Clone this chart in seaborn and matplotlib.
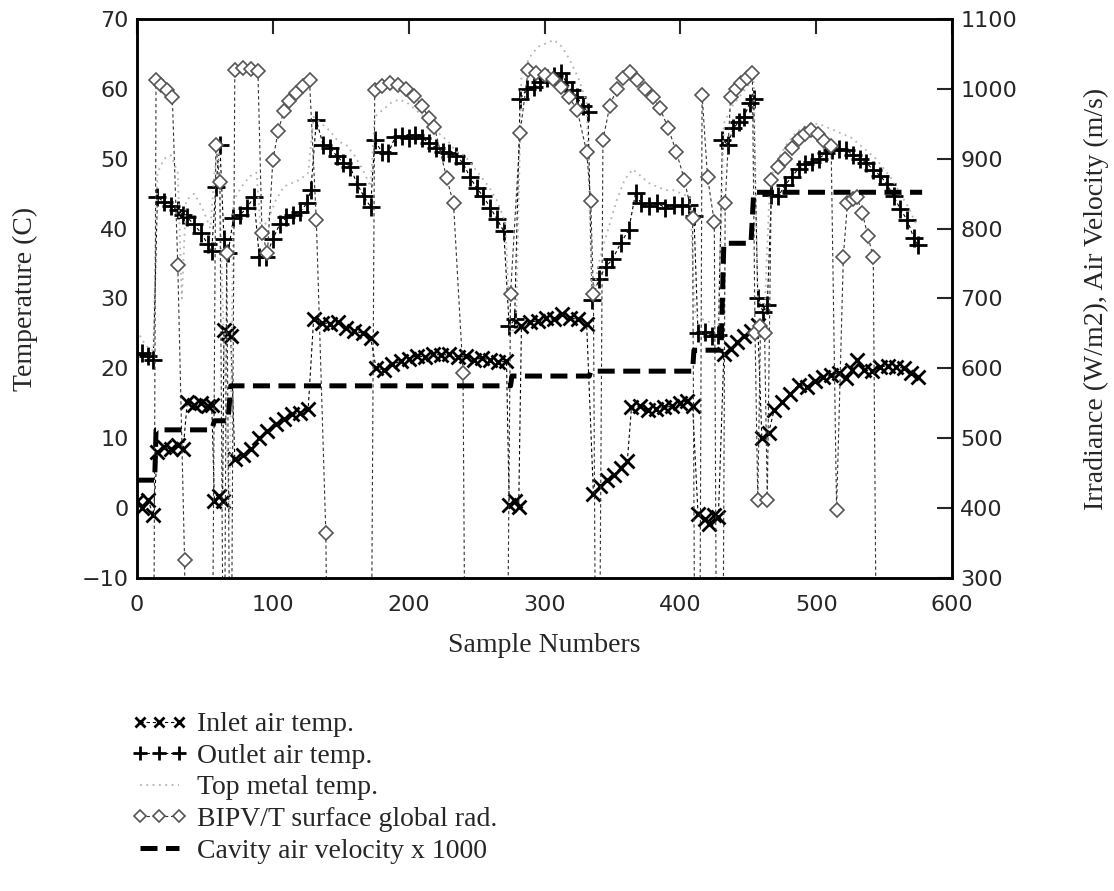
import matplotlib
matplotlib.use("Agg")
import matplotlib.pyplot as plt
import seaborn as sns

# sample numbers / values, block by block
inlet_x = [0, 4, 8, 12,
           15, 20, 25, 30, 34,
           37, 42, 47, 52, 55,
           57, 60, 63, 64, 67, 69,
           72, 78, 84, 90, 96, 102, 108, 114, 120, 126,
           130, 136, 142, 148, 154, 160, 166, 172,
           176, 182, 188, 194, 200, 206, 212, 218, 224, 230, 236, 242, 248, 254, 260, 266, 272,
           274, 278, 281,
           283, 289, 295, 301, 307, 313, 319, 325, 331,
           336, 341, 346, 351, 356, 361,
           364, 370, 376, 382, 388, 394, 400, 405, 409,
           413, 418, 421, 425, 428,
           432, 437, 442, 447, 452, 457,
           460, 465,
           469, 475, 481, 487, 493, 499, 505, 511, 517, 522, 526, 530, 535, 541, 547, 553, 559, 565, 570, 575]
inlet_t = [1.0, 0.0, 1.2, -1.0,
           8.0, 8.8, 8.4, 9.0, 8.5,
           15.2, 14.8, 15.0, 14.6, 14.8,
           1.0, 1.8, 1.0, 25.5, 25.0, 24.6,
           7.0, 7.6, 8.4, 10.0, 11.0, 12.0, 12.8, 13.4, 13.6, 14.2,
           27.0, 26.5, 26.4, 26.6, 25.8, 25.4, 25.0, 24.4,
           20.0, 19.8, 20.6, 21.0, 21.4, 21.8, 21.6, 22.0, 21.9, 22.0, 21.6, 21.8, 21.2, 21.5, 21.2, 20.9, 21.0,
           0.5, 1.0, 0.2,
           26.0, 26.6, 26.8, 27.2, 27.0, 27.8, 27.2, 27.0, 26.4,
           2.0, 3.2, 4.0, 4.8, 5.8, 6.8,
           14.4, 14.6, 14.0, 14.2, 14.4, 14.6, 15.0, 15.4, 14.6,
           -0.8, -1.6, -2.3, -1.0, -1.2,
           22.0, 22.8, 23.8, 24.6, 25.4, 26.2,
           10.0, 10.8,
           14.0, 15.2, 16.4, 17.6, 17.4, 18.2, 18.8, 19.0, 19.4, 18.6, 19.8, 21.2, 19.8, 19.6, 20.2, 20.4, 20.2, 20.0, 19.4, 18.8]

outlet_x = [0, 4, 8, 12,
            15, 20, 25, 30, 34,
            37, 42, 47, 52, 55,
            58, 61, 64, 67,
            71, 76, 81, 86, 90, 95, 100, 105, 110, 115, 120, 125, 128,
            132, 137, 142, 147, 152, 157, 162, 167, 172,
            175, 180, 185, 190, 195, 200, 205, 210, 215, 220, 225, 230, 235, 240, 245, 250, 255, 260, 265, 270,
            274, 278,
            282, 287, 292, 297, 302, 307, 312, 316, 320, 324, 328, 332,
            335, 340, 345, 350, 356, 362, 367,
            371, 377, 383, 389, 395, 401, 406, 410,
            413, 418, 423, 428,
            431, 435, 439, 443, 447, 451, 454,
            457, 461, 464,
            467, 472, 477, 482, 487, 492, 497, 502, 507, 512, 517, 522, 527, 532, 537, 542, 547, 552, 557, 562, 567, 572, 575]
outlet_t = [22.0, 22.2, 21.8, 21.2,
            44.5, 43.8, 43.2, 42.6, 42.0,
            41.6, 40.6, 39.4, 37.8, 36.8,
            46.0, 52.0, 38.5, 36.5,
            41.5, 42.0, 43.0, 44.5, 36.0, 36.0, 38.5, 40.6, 41.6, 42.0, 42.4, 43.6, 45.5,
            55.5, 52.0, 51.6, 50.4, 49.4, 48.8, 46.4, 44.6, 43.1,
            52.7, 51.0, 50.8, 53.1, 53.2, 53.0, 53.4, 53.0, 52.2, 51.6, 51.0, 50.8, 50.4, 49.4, 47.4, 45.8, 44.6, 43.0, 41.4, 39.6,
            26.0, 27.0,
            58.5, 60.0, 60.2, 61.0, 61.5, 61.8, 62.2, 61.0, 59.8, 58.8, 57.6, 56.7,
            29.8, 32.8, 34.5, 35.6, 37.9, 39.8, 45.1,
            43.6, 43.2, 43.6, 43.0, 43.4, 43.2, 43.4, 41.8,
            25.0, 25.2, 24.6, 24.8,
            52.7, 52.0, 54.4, 55.2, 56.0, 58.0, 58.6,
            30.0, 28.0, 29.0,
            44.8, 44.6, 46.2, 47.4, 48.6, 49.2, 49.6, 50.0, 50.8, 51.2, 51.4, 51.2, 50.6, 50.0, 49.4, 48.4, 47.6, 46.4, 44.6, 42.8, 41.2, 38.6, 37.6]

metal_x = [0, 4, 8, 12, 15, 20, 25, 30, 33, 36, 42, 48, 54, 57, 60, 63, 68,
           71, 77, 83, 88, 91, 96, 102, 108, 114, 120, 126,
           130, 136, 142, 148, 154, 160, 166, 172,
           175, 181, 187, 193, 199, 205, 211, 217, 223, 229, 235, 241, 247, 253, 259, 265, 271,
           275, 279, 283, 289, 295, 301, 307, 313, 319, 325, 331,
           335, 341, 347, 353, 359, 365, 371, 377, 383, 389, 395, 401, 407,
           411, 417, 423, 428, 432, 438, 444, 450, 454, 457, 462,
           466, 472, 478, 484, 490, 496, 502, 508, 514, 520, 526, 532, 538, 544, 550, 556, 562, 568, 574]
metal_t = [25.5, 24.0, 23.0, 22.5, 48.0, 50.0, 50.5, 48.0, 30.0, 44.0, 45.0, 43.0, 40.0, 48.0, 52.0, 30.0, -2.0,
           44.0, 46.0, 47.5, 48.0, 40.0, 41.0, 44.0, 46.0, 46.5, 47.0, 48.0,
           56.0, 55.0, 54.0, 52.5, 52.0, 50.5, 48.5, 46.0,
           56.0, 57.0, 58.0, 58.5, 58.0, 57.0, 56.0, 55.0, 53.5, 52.5, 51.0, 50.5, 49.0, 47.5, 46.0, 44.0, 41.0,
           25.0, 26.0, 62.0, 64.5, 66.0, 66.5, 67.0, 66.0, 64.0, 61.5, 58.0,
           30.0, 36.0, 40.0, 44.0, 47.0, 48.5, 47.5, 46.5, 46.0, 45.5, 45.5, 45.0, 44.5,
           27.5, 27.0, 26.5, 26.0, 55.0, 57.5, 59.0, 60.5, 61.0, 30.0, 28.0,
           47.0, 50.0, 52.0, 53.5, 54.5, 55.0, 55.0, 54.5, 54.0, 53.5, 53.0, 52.0, 51.0, 50.0, 48.5, 47.0, 45.0, 43.0, 40.5]

# irradiance W/m2 (0 = dark between test runs)
rad_x = [0, 12, 14, 18, 22, 26, 30, 35, 37,
         55, 58, 61, 64, 66, 69,
         72, 78, 84, 89, 92, 96, 100, 104, 108, 112, 117, 122, 127, 132, 139, 141,
         172, 175, 180, 186, 192, 198, 204, 210, 215, 219, 228, 233, 240, 242,
         272, 275, 282, 288, 294, 300, 306, 312, 318, 324, 331, 334, 336, 338,
         340, 343, 348, 353, 358, 363, 368, 374, 380, 385, 391, 397, 403, 409, 411,
         414, 416, 420, 425, 427,
         431, 433, 437, 441, 445, 449, 453, 455, 457, 459, 462, 464,
         467, 472, 477, 482, 487, 492, 496, 501, 506, 511, 515, 520, 523, 527, 530, 534, 538, 542, 545, 575]
rad_w = [0, 0, 1012, 1006, 998, 988, 748, 326, 0,
         0, 920, 867, 0, 765, 0,
         1027, 1030, 1028, 1025, 794, 765, 898, 940, 968, 982, 994, 1004, 1012, 812, 364, 0,
         0, 998, 1004, 1008, 1006, 1000, 990, 975, 958, 945, 872, 836, 593, 0,
         0, 707, 937, 1027, 1022, 1020, 1014, 1002, 988, 970, 910, 840, 707, 0,
         0, 927, 975, 1000, 1016, 1024, 1012, 1000, 988, 972, 944, 910, 870, 815, 0,
         0, 991, 874, 809, 0,
         0, 836, 988, 1000, 1008, 1015, 1022, 650, 412, 660, 650, 412,
         870, 888, 900, 915, 928, 936, 941, 936, 925, 918, 397, 760, 836, 842, 845, 822, 790, 759, 0, 0]

# cavity air velocity, m/s (plotted x 1000)
vel_x = [0, 13, 14, 55, 57, 67, 69, 275, 276, 333, 334, 409, 410, 430, 432, 452, 454, 578]
vel_ms = [0.440, 0.440, 0.512, 0.512, 0.525, 0.525, 0.575, 0.575, 0.589, 0.589,
          0.596, 0.596, 0.626, 0.626, 0.779, 0.779, 0.852, 0.852]

sns.set_style("white")
plt.rcParams["font.family"] = ["DejaVu Sans"]
serif = {"family": "Liberation Serif", "size": 20}

fig = plt.figure(figsize=(11.14, 8.91), dpi=100)
ax = fig.add_axes([0.123, 0.3513, 0.7316, 0.6274])
ax2 = ax.twinx()

thin = (0, (3, 2.5))
common = dict(estimator=None, sort=False, legend=False)

sns.lineplot(x=inlet_x, y=inlet_t, ax=ax, color="black", lw=0.8, linestyle=thin,
             marker="x", markersize=10, mew=2, mec="black", label="Inlet air temp.", **common)
sns.lineplot(x=outlet_x, y=outlet_t, ax=ax, color="black", lw=0.8, linestyle=thin,
             marker="+", markersize=13, mew=2, mec="black", label="Outlet air temp.", **common)
sns.lineplot(x=metal_x, y=metal_t, ax=ax, color="#b4b4b4", lw=1.3, linestyle=(0, (1, 2.5)),
             label="Top metal temp.", **common)
sns.lineplot(x=rad_x, y=rad_w, ax=ax2, color="#333333", lw=0.8, linestyle=thin,
             marker="D", markersize=7.5, mew=1.2, mec="#555555", mfc="white",
             label="BIPV/T surface global rad.", **common)
sns.lineplot(x=vel_x, y=[v * 1000 for v in vel_ms], ax=ax2, color="black", lw=3.6,
             linestyle=(0, (3.4, 1.7)), label="Cavity air velocity x 1000", **common)

for a in (ax, ax2):
    if a.get_legend() is not None:
        a.get_legend().remove()
    for s in a.spines.values():
        s.set_linewidth(1.8)
        s.set_color("black")

ax.set_xlim(0, 600)
ax.set_ylim(-10, 70)
ax2.set_ylim(300, 1100)
ax.set_xticks(range(0, 601, 100))
ax.set_yticks(range(-10, 71, 10))
ax2.set_yticks(range(300, 1101, 100))

ax.tick_params(axis="x", direction="in", length=11, width=1.5, top=True, labelsize=16, pad=12)
ax.tick_params(axis="y", length=0, labelsize=16, pad=6)
ax2.tick_params(axis="y", direction="in", length=11, width=1.5, labelsize=16, pad=6)

ax.set_xlabel("Sample Numbers", fontdict=serif, va="center")
ax.xaxis.set_label_coords(0.5, -0.12)
ax.set_ylabel("Temperature (C)", fontdict=serif, va="center", ha="center")
ax.yaxis.set_label_coords(-0.137, 0.5)
ax2.set_ylabel("Irradiance (W/m2), Air Velocity (m/s)", fontdict=serif, va="center", ha="center")
ax2.yaxis.set_label_coords(1.177, 0.5)

h1, l1 = ax.get_legend_handles_labels()
h2, l2 = ax2.get_legend_handles_labels()
fig.legend(h1 + h2, l1 + l2, loc="upper left", bbox_to_anchor=(0.118, 0.201),
           frameon=False, prop=serif, numpoints=3, markerscale=0.75, handlelength=2.0,
           handletextpad=0.35, labelspacing=0.22, borderpad=0, borderaxespad=0)

fig.savefig("out.png", dpi=100)
